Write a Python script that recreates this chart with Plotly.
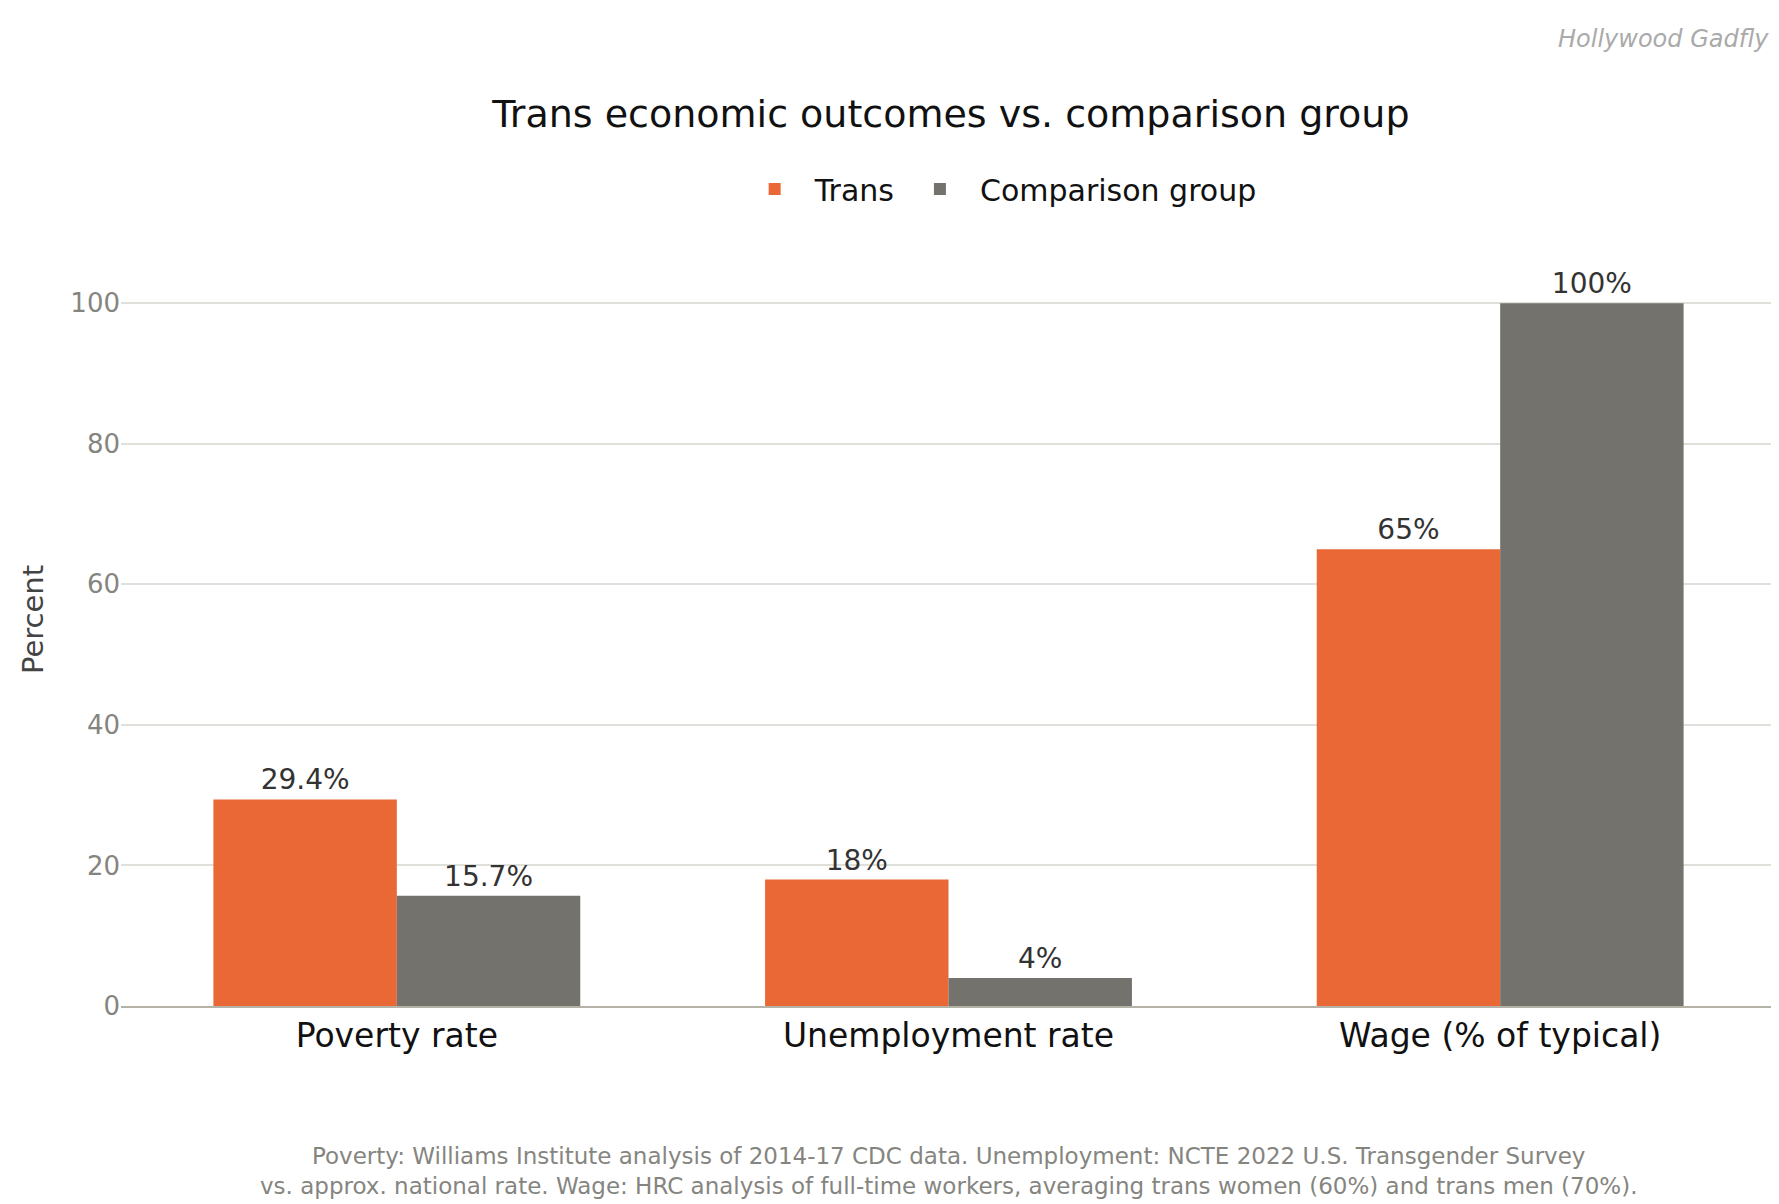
import plotly.graph_objects as go

categories = ["Poverty rate", "Unemployment rate", "Wage (% of typical)"]
trans = [29.4, 18, 65]
comparison = [15.7, 4, 100]
trans_labels = ["29.4%", "18%", "65%"]
comparison_labels = ["15.7%", "4%", "100%"]

FONT = "DejaVu Sans"

fig = go.Figure()
fig.add_trace(go.Bar(x=categories, y=trans, name="Trans", marker_color="#E96835",
                     marker_line_width=0,
                     text=trans_labels, textposition="outside", cliponaxis=False,
                     textfont=dict(size=28, color="#333333")))
fig.add_trace(go.Bar(x=categories, y=comparison, name="Comparison group", marker_color="#73726C",
                     marker_line_width=0,
                     text=comparison_labels, textposition="outside", cliponaxis=False,
                     textfont=dict(size=28, color="#333333")))

fig.update_layout(
    width=1779, height=1204,
    font=dict(family=FONT),
    plot_bgcolor="white", paper_bgcolor="white",
    barmode="group", bargap=0.335, bargroupgap=0,
    margin=dict(l=113, r=11, t=225, b=206),
    title=dict(text="Trans economic outcomes vs. comparison group", x=0.53, xanchor="center",
               y=0.912, yanchor="middle", font=dict(size=38, color="#111111")),
    legend=dict(orientation="h", x=0.53, xanchor="center", y=1.057, yanchor="middle",
                font=dict(size=30, color="#111111"), traceorder="normal", itemwidth=70),
    xaxis=dict(tickfont=dict(size=33, color="#111111"), showline=True, linecolor="#B5B3A8",
               linewidth=1.5, ticks=""),
    yaxis=dict(range=[0, 110], tickvals=[0, 20, 40, 60, 80, 100], showgrid=True,
               gridcolor="#E0E0DA", gridwidth=2, zeroline=False,
               tickfont=dict(size=26, color="#858580"), ticks="",
               title=dict(text="Percent", font=dict(size=29, color="#444444"), standoff=18)),
    showlegend=True,
)

fig.add_annotation(text="<i>Hollywood Gadfly</i>", xref="paper", yref="paper", x=0.997, y=1.251,
                   xanchor="right", yanchor="middle", showarrow=False,
                   font=dict(size=24, color="#AAAAAA"))
fig.add_annotation(text="Poverty: Williams Institute analysis of 2014-17 CDC data. Unemployment: NCTE 2022 U.S. Transgender Survey<br>"
                        "vs. approx. national rate. Wage: HRC analysis of full-time workers, averaging trans women (60%) and trans men (70%).",
                   xref="paper", yref="paper", x=0.5, y=-0.213, xanchor="center", yanchor="middle",
                   showarrow=False, font=dict(size=23, color="#858580"))

fig.write_html("out.html")
